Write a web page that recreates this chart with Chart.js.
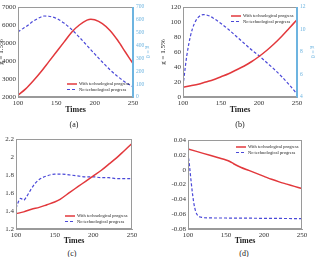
<!DOCTYPE html>
<html><head><meta charset="utf-8">
<script src="https://cdn.jsdelivr.net/npm/chart.js@4.4.1/dist/chart.umd.min.js"></script>
<style>
html,body{margin:0;padding:0;background:#fff;}
#wrap{position:relative;width:316px;height:257px;overflow:hidden;background:#fff;}
canvas{position:absolute;}
.cap{position:absolute;font-family:'Liberation Serif',serif;font-size:8px;color:#222;transform:translate(-50%,-50%);white-space:nowrap;}
</style></head><body>
<div id="wrap">
<canvas id="ca" width="161" height="118" style="left:-3px;top:0px"></canvas>
<canvas id="cb" width="158" height="118" style="left:158px;top:0px"></canvas>
<canvas id="cc" width="158" height="120" style="left:0px;top:128px"></canvas>
<canvas id="cd" width="158" height="120" style="left:158px;top:128px"></canvas>
<div class="cap" style="left:74px;top:124px">(a)</div>
<div class="cap" style="left:240px;top:124px">(b)</div>
<div class="cap" style="left:72px;top:253px">(c)</div>
<div class="cap" style="left:244px;top:253px">(d)</div>
</div>
<script>
// ---- labels ----
const seriesLabels = ['With technological progress', 'No technological progress'];
const xTitle = 'Times';
const xTicks = [100, 150, 200, 250];

// ---- panel (a) ----
const aRedX = [100,110,120,130,140,150,160,170,180,190,195,200,210,220,230,240,250];
const aRedY = [2100,2450,2900,3400,3950,4500,5050,5600,6000,6270,6320,6290,6080,5700,5150,4500,3850];
const aBlueX = [100,103,110,120,130,135,140,150,160,170,180,190,200,210,220,230,240,250];
const aBlueY = [505,520,545,590,622,630,628,612,575,525,465,400,335,272,212,160,115,80];
const aLeftTicks = [2000,3000,4000,5000,6000,7000];
const aRightTicks = [0,100,200,300,400,500,600,700];

// ---- panel (b) ----
const bRedX = [100,110,120,130,140,150,160,170,180,190,200,210,220,230,240,250];
const bRedY = [13,15,17,20,23,27,31,36,41,47,54,62,71,81,92,103];
const bBlueX = [100,105,110,115,120,127,135,140,150,160,170,180,190,200,210,220,230,240,250];
const bBlueY = [5.0,7.67,9.47,10.53,11.07,11.33,11.2,11.0,10.53,10.0,9.4,8.8,8.2,7.67,7.07,6.47,5.8,5.07,4.27];
const bLeftTicks = [0,20,40,60,80,100,120];
const bRightTicks = [4,6,8,10,12];

// ---- panel (c) ----
const cRedX = [100,110,120,130,140,150,157,170,180,190,200,210,220,230,240,250];
const cRedY = [1.37,1.39,1.42,1.44,1.47,1.50,1.53,1.61,1.67,1.73,1.79,1.85,1.92,1.99,2.07,2.15];
const cBlueX = [100,103,106,110,113,120,125,130,140,150,160,170,180,190,200,210,220,230,240,250];
const cBlueY = [1.43,1.50,1.54,1.52,1.55,1.65,1.71,1.75,1.79,1.81,1.81,1.80,1.79,1.78,1.78,1.77,1.77,1.76,1.76,1.76];
const cTicks = [1.2,1.4,1.6,1.8,2,2.2];

// ---- panel (d) ----
const dRedX = [100,110,120,130,140,150,155,160,170,180,190,200,210,220,230,240,250];
const dRedY = [0.028,0.025,0.022,0.019,0.016,0.013,0.011,0.008,0.003,-0.001,-0.005,-0.009,-0.013,-0.0165,-0.0195,-0.0225,-0.0255];
const dBlueX = [100,102,104,106,108,110,113,117,125,150,200,250];
const dBlueY = [0.022,0.005,-0.015,-0.033,-0.047,-0.056,-0.062,-0.064,-0.065,-0.0652,-0.0656,-0.066];
const dTicks = [-0.08,-0.06,-0.04,-0.02,0,0.02,0.04];

// ---- styles ----
const RED = '#e2383c';
const BLUE = '#4a48d8';
const LIGHTBLUE = '#6db4e0';
const AXIS = '#9a9a9a';
const TXT = '#333';
const FONT = "'Liberation Serif', 'Times New Roman', serif";

function pts(xs, ys) { return xs.map((x, i) => ({x: x, y: ys[i]})); }
function fmt(v) { return String(+Number(v).toFixed(4)); }

const legendPlugin = {
  id: 'miniLegend',
  afterDraw(chart, args, o) {
    if (!o || o.x === undefined) return;
    const ctx = chart.ctx;
    ctx.save();
    ctx.font = o.size + 'px ' + FONT;
    ctx.textBaseline = 'middle';
    chart.data.datasets.forEach((ds, i) => {
      const y = o.y + i * o.gap;
      ctx.beginPath();
      ctx.strokeStyle = ds.borderColor;
      ctx.lineWidth = ds.borderWidth;
      ctx.setLineDash(ds.borderDash || []);
      ctx.moveTo(o.x, y); ctx.lineTo(o.x + o.len, y); ctx.stroke();
      ctx.setLineDash([]);
      ctx.fillStyle = '#222';
      ctx.fillText(ds.label, o.x + o.len + 2, y);
    });
    ctx.restore();
  }
};
const boxPlugin = {
  id: 'box',
  afterDraw(chart, args, o) {
    const a = chart.chartArea;
    const ctx = chart.ctx;
    ctx.save();
    ctx.lineWidth = 1;
    ctx.strokeStyle = AXIS;
    ctx.beginPath();
    ctx.moveTo(a.left, Math.round(a.top) + 0.5);
    ctx.lineTo(a.right, Math.round(a.top) + 0.5);
    ctx.moveTo(a.left, Math.round(a.bottom) - 0.5);
    ctx.lineTo(a.right, Math.round(a.bottom) - 0.5);
    ctx.moveTo(Math.round(a.left) + 0.5, a.top);
    ctx.lineTo(Math.round(a.left) + 0.5, a.bottom);
    ctx.stroke();
    ctx.beginPath();
    ctx.strokeStyle = (o && o.rightColor) || AXIS;
    ctx.moveTo(Math.round(a.right) - 0.5, a.top);
    ctx.lineTo(Math.round(a.right) - 0.5, a.bottom);
    ctx.stroke();
    ctx.restore();
  }
};

function tickSetter(list) {
  return s => { s.ticks = list.map(v => ({value: v})); };
}

function makePanel(id, p) {
  const datasets = [
    {label: seriesLabels[0], data: pts(p.rx, p.ry), borderColor: RED, borderWidth: 1.5,
     pointRadius: 0, tension: 0.4, cubicInterpolationMode: 'monotone', yAxisID: 'y', fill: false},
    {label: seriesLabels[1], data: pts(p.bx, p.by), borderColor: BLUE, borderWidth: 1.2, borderDash: [3, 2],
     pointRadius: 0, tension: 0.4, cubicInterpolationMode: 'monotone', yAxisID: p.right ? 'y2' : 'y', fill: false}
  ];
  const scales = {
    x: {
      type: 'linear', min: 100, max: 250,
      afterBuildTicks: tickSetter(xTicks),
      afterFit: s => { s.height = p.xh; },
      grid: {display: false, drawTicks: false},
      border: {display: true, color: AXIS, width: 1},
      ticks: {color: TXT, font: {family: FONT, size: 7}, padding: 2, callback: v => fmt(v), maxRotation: 0},
      title: {display: true, text: xTitle, color: '#222', font: {family: FONT, size: 8, weight: 'bold'}, padding: {top: 0, bottom: p.tpb}}
    },
    y: {
      type: 'linear', position: 'left', min: p.ymin, max: p.ymax,
      afterBuildTicks: tickSetter(p.yt),
      afterFit: s => { s.width = p.yw; },
      grid: {display: false, drawTicks: false},
      border: {display: true, color: AXIS, width: 1},
      ticks: {color: TXT, font: {family: FONT, size: 7}, padding: 2, callback: v => fmt(v)},
      title: p.ytitle ? {display: true, text: p.ytitle, color: '#222', font: {family: FONT, size: 7}, padding: {top: p.ytp || 0, bottom: 0}} : {display: false}
    }
  };
  if (p.right) {
    scales.y2 = {
      type: 'linear', position: 'right', min: p.y2min, max: p.y2max,
      afterBuildTicks: tickSetter(p.y2t),
      afterFit: s => { s.width = p.y2w; },
      grid: {display: false, drawTicks: false},
      border: {display: true, color: LIGHTBLUE, width: 1},
      ticks: {color: LIGHTBLUE, font: {family: FONT, size: 5.5}, padding: 3, callback: v => fmt(v)},
      title: {display: true, text: 'g = 0', color: LIGHTBLUE, font: {family: FONT, size: 6}, padding: {top: p.y2tp || 0, bottom: 0}}
    };
  }
  new Chart(document.getElementById(id), {
    type: 'line',
    data: {datasets: datasets},
    options: {
      responsive: false, animation: false, devicePixelRatio: 1,
      layout: {padding: {top: p.pt, right: p.pr || 0, left: 0, bottom: 0}},
      plugins: {legend: {display: false}, tooltip: {enabled: false},
        miniLegend: p.leg, box: {rightColor: p.right ? LIGHTBLUE : null}},
      scales: scales
    },
    plugins: [legendPlugin, boxPlugin]
  });
}

makePanel('ca', {rx: aRedX, ry: aRedY, bx: aBlueX, by: aBlueY, right: true,
  ymin: 2000, ymax: 7000, yt: aLeftTicks, y2min: 0, y2max: 700, y2t: aRightTicks,
  yw: 21, y2w: 25, xh: 21, tpb: 3, pt: 7, ytitle: 'g = 1.5%', ytp: 0, y2tp: 7,
  leg: {x: 70, y: 84, gap: 5.5, len: 10, size: 4.5}});
makePanel('cb', {rx: bRedX, ry: bRedY, bx: bBlueX, by: bBlueY, right: true,
  ymin: 0, ymax: 120, yt: bLeftTicks, y2min: 4, y2max: 12, y2t: bRightTicks,
  yw: 25, y2w: 19, xh: 21, tpb: 3, pt: 7, ytitle: 'g = 1.5%', ytp: 1, y2tp: 0,
  leg: {x: 73, y: 16, gap: 5.5, len: 10, size: 4.5}});
makePanel('cc', {rx: cRedX, ry: cRedY, bx: cBlueX, by: cBlueY, right: false,
  ymin: 1.2, ymax: 2.2, yt: cTicks, yw: 16, xh: 19, tpb: 2, pt: 11, pr: 26,
  leg: {x: 65, y: 88, gap: 5.5, len: 10, size: 4.5}});
makePanel('cd', {rx: dRedX, ry: dRedY, bx: dBlueX, by: dBlueY, right: false,
  ymin: -0.08, ymax: 0.04, yt: dTicks, yw: 30, xh: 19, tpb: 2, pt: 12, pr: 14,
  leg: {x: 78, y: 19, gap: 5.5, len: 10, size: 4.5}});
</script>
</body></html>
